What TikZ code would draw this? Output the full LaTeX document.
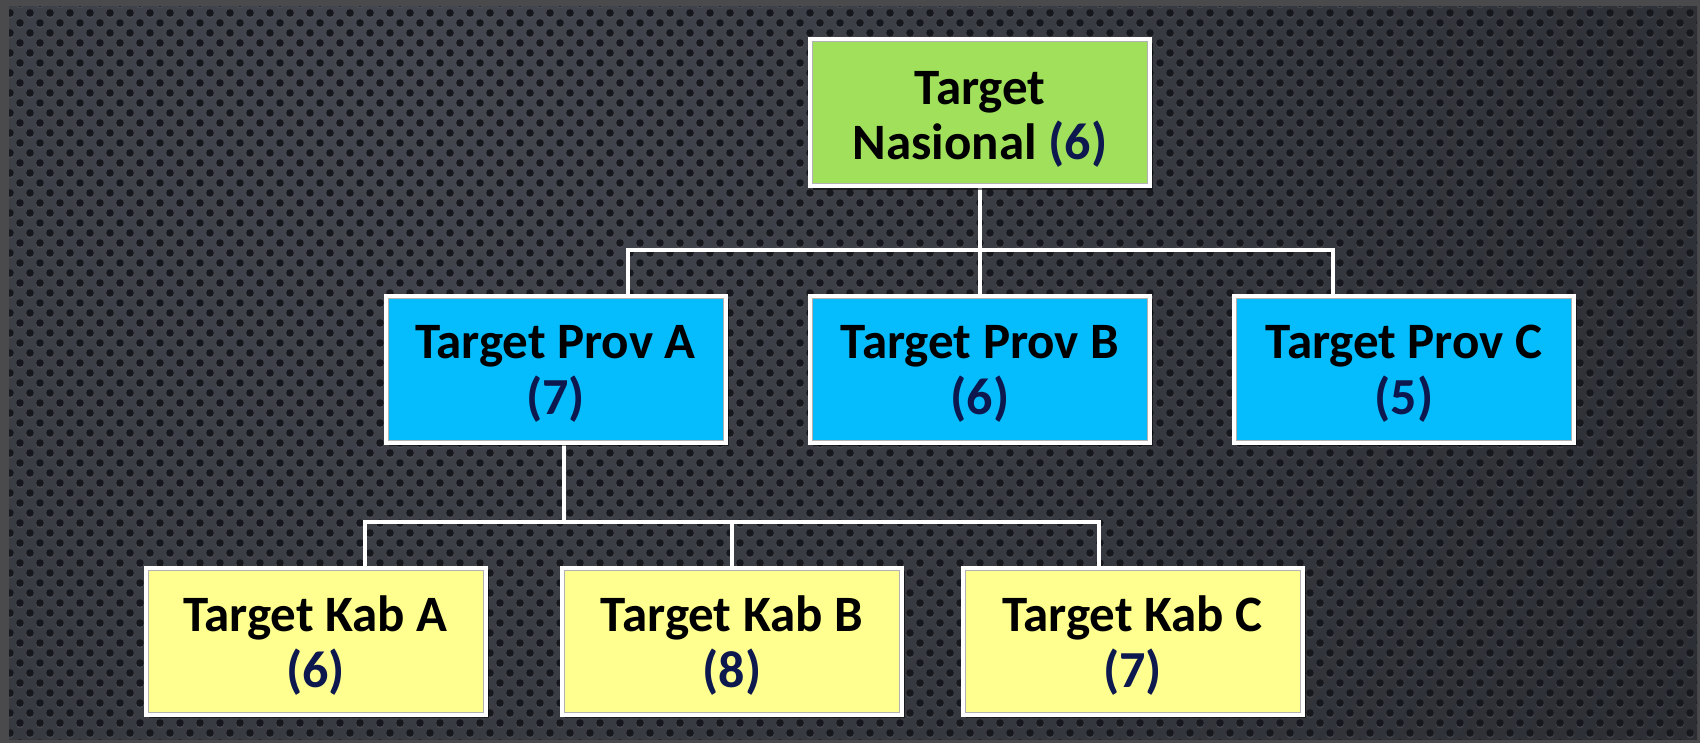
\documentclass[tikz,border=0pt]{standalone}
\usepackage{fontspec}
\setmainfont{Carlito}
\usetikzlibrary{patterns.meta,shadows,calc}

\definecolor{framegray}{RGB}{74,74,76}
\definecolor{bglight}{RGB}{68,71,79}
\definecolor{bgdark}{RGB}{36,38,43}
\definecolor{holedark}{RGB}{22,24,29}
\definecolor{holerim}{RGB}{88,91,99}
\definecolor{natgreen}{RGB}{160,224,90}
\definecolor{provblue}{RGB}{5,188,252}
\definecolor{kabyellow}{RGB}{255,255,143}
\definecolor{tallyblue}{RGB}{12,24,78}

\newcommand\tally[1]{{\color{tallyblue}\fontsize{26}{28}\selectfont(#1)}}
% strut for the first line; the raise pushes the text block a little lower
\newcommand\firstline[1][4pt]{\raisebox{#1}{\vphantom{Tb}}}

\pgfdeclarelayer{texture}
\pgfdeclarelayer{wires}
\pgfsetlayers{texture,wires,main}

\begin{document}
\begin{tikzpicture}[x=0.5pt,y=-0.5pt,
  box/.style={draw=white, line width=2pt, minimum width=170pt,
    minimum height=73.5pt, inner sep=0pt, align=center,
    font=\bfseries\fontsize{25.5}{28}\selectfont,
    drop shadow={shadow xshift=1.6pt, shadow yshift=-1.6pt,
      opacity=0.55, fill=black},
    path picture={\draw[black!30, line width=0.5pt]
      ([shift={(1.25pt,-1.25pt)}]path picture bounding box.north west)
      rectangle
      ([shift={(-1.25pt,1.25pt)}]path picture bounding box.south east);}},
  natbox/.style={box, fill=natgreen, font=\bfseries\fontsize{25.5}{27.5}\selectfont},
  provbox/.style={box, fill=provblue},
  kabbox/.style={box, fill=kabyellow},
  wire/.style={draw=white, line width=2.1pt}]

\useasboundingbox (0,0) rectangle (1700,743);

% perforated dark backdrop inside a grey frame
\begin{pgfonlayer}{texture}
  \fill[framegray] (0,0) rectangle (1700,743);
  \begin{scope}
    \clip (9,7) rectangle (1697,739);
    \fill[bgdark] (9,7) rectangle (1697,739);
    \shade[inner color=bglight, outer color=bgdark] (420,60) circle (1900);
    \fill[pattern={Dots[distance=10pt, radius=2pt, yshift=-0.7pt]},
          pattern color=holerim, opacity=0.45] (9,7) rectangle (1697,739);
    \fill[pattern={Dots[distance=10pt, radius=2pt, xshift=5pt, yshift=4.3pt]},
          pattern color=holerim, opacity=0.45] (9,7) rectangle (1697,739);
    \fill[pattern={Dots[distance=10pt, radius=1.9pt]},
          pattern color=holedark] (9,7) rectangle (1697,739);
    \fill[pattern={Dots[distance=10pt, radius=1.9pt, xshift=5pt, yshift=5pt]},
          pattern color=holedark] (9,7) rectangle (1697,739);
  \end{scope}
\end{pgfonlayer}

% boxes
\node[natbox]  (nat) at (980,113)     {\firstline[5pt]Target\\Nasional \tally{6}};
\node[provbox] (pa)  at (555.5,369)   {\firstline Target Prov A\\\tally{7}};
\node[provbox] (pb)  at (980,369)     {\firstline Target Prov B\\\tally{6}};
\node[provbox] (pc)  at (1404,369)    {\firstline Target Prov C\\\tally{5}};
\node[kabbox]  (ka)  at (315.5,641.5) {\firstline Target Kab A\\\tally{6}};
\node[kabbox]  (kb)  at (732,641.5)   {\firstline Target Kab B\\\tally{8}};
\node[kabbox]  (kc)  at (1132.5,641.5){\firstline Target Kab C\\\tally{7}};

% connectors
\coordinate (j1) at (980,250);
\coordinate (j2) at (564,522);
\coordinate (pain) at ($(pa.north)+(72.5,0)$);
\coordinate (pcin) at ($(pc.north)+(-71,0)$);
\coordinate (paout) at ($(pa.south)+(8.5,0)$);
\coordinate (kain) at ($(ka.north)+(49.5,0)$);
\coordinate (kcin) at ($(kc.north)+(-33.5,0)$);

\begin{pgfonlayer}{wires}
  \draw[wire] (nat.south) -- (j1);
  \draw[wire] (pain) |- (j1) -| (pcin);
  \draw[wire] (j1) -- (pb.north);
  \draw[wire] (paout) -- (j2);
  \draw[wire] (kain) |- (j2) -| (kcin);
  \draw[wire] (j2 -| kb.north) -- (kb.north);
\end{pgfonlayer}
\end{tikzpicture}
\end{document}
